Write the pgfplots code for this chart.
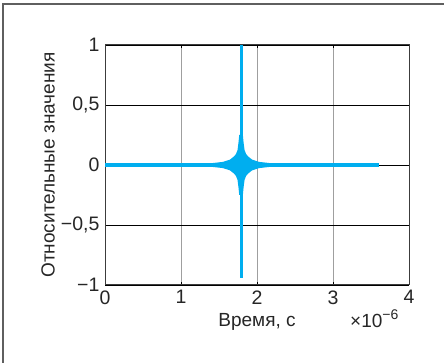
\documentclass[border=0pt]{standalone}
\usepackage{pgfplots}
\pgfplotsset{compat=1.18}
\usepackage{fontspec}
\setmainfont{Liberation Sans}
\definecolor{sig}{RGB}{0,174,239}
\definecolor{framegray}{RGB}{95,95,95}
\definecolor{axgray}{RGB}{60,60,60}
\begin{document}
\begin{tikzpicture}[x=1pt,y=1pt]
\useasboundingbox (0,0) rectangle (444,363);
% outer panel frame
\draw[framegray, line width=1.4pt] (3,0) -- (3,359) -- (444,359);
\begin{axis}[
  at={(105pt,78pt)}, anchor=south west,
  scale only axis, width=304pt, height=240pt,
  xmin=0, xmax=4, ymin=-1, ymax=1,
  xtick={0,1,2,3,4},
  ytick={-1,-0.5,0,0.5,1},
  yticklabels={{−1},{−0,5},{0},{0,5},{1}},
  xticklabels={{0},{1},{2},{3},{4}},
  grid=major,
  x grid style={gray!75, line width=0.9pt},
  y grid style={black, line width=0.8pt},
  axis line style={axgray, line width=1pt},
  major tick style={black, line width=0.6pt},
  major tick length=3pt,
  tick label style={font=\fontsize{19.5}{21}\selectfont, text=black!85},
  xticklabel style={yshift=-2pt},
  yticklabel style={xshift=-2pt},
  label style={font=\fontsize{19}{21}\selectfont, text=black!85},
  xlabel={Время, с},
  xlabel style={at={(axis description cs:0.5,0)}, anchor=center, yshift=-37pt},
  ylabel={Относительные значения},
  ylabel style={at={(axis description cs:0,0.5)}, anchor=center, yshift=57pt},
  /pgf/number format/assume math mode=true,
  clip=true,
]
% baseline of the record
\addplot[sig, line width=3.8pt] coordinates {(0,0) (3.605,0)};
% ringing burst around the pulse
\addplot[sig, fill=sig, draw=none] coordinates {
  (1.40,0.015) (1.553,0.026) (1.645,0.045) (1.698,0.072) (1.724,0.092)
  (1.744,0.125) (1.757,0.19) (1.766,0.25) (1.814,0.25) (1.823,0.19)
  (1.836,0.125) (1.856,0.092) (1.882,0.072) (1.935,0.045) (2.027,0.026)
  (2.18,0.015)
  (2.18,-0.015) (2.027,-0.026) (1.935,-0.045) (1.882,-0.072) (1.856,-0.092)
  (1.836,-0.125) (1.823,-0.19) (1.814,-0.25) (1.766,-0.25) (1.757,-0.19)
  (1.744,-0.125) (1.724,-0.092) (1.698,-0.072) (1.645,-0.045) (1.553,-0.026)
  (1.40,-0.015)
} -- cycle;
% main pulse
\addplot[sig, line width=3pt] coordinates {(1.79,-0.94) (1.79,1)};
\end{axis}
\node[anchor=base west, text=black!85, font=\fontsize{19}{21}\selectfont, inner sep=0pt]
  at (350,35) {×10\raisebox{8pt}{\fontsize{14}{16}\selectfont −6}};
\end{tikzpicture}
\end{document}
